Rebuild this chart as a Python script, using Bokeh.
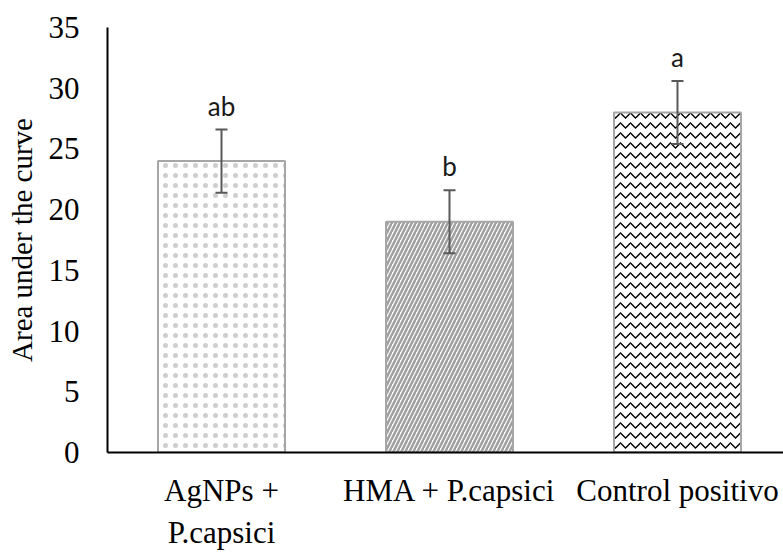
from bokeh.plotting import figure
from bokeh.models import Range1d, FixedTicker, ColumnDataSource, Whisker, TeeHead
from bokeh.core.properties import value
from bokeh.embed import file_html
from bokeh.resources import INLINE

categories = ["AgNPs +\nP.capsici", "HMA + P.capsici", "Control positivo"]
means = [24.0, 19.0, 28.0]
errors = [2.6, 2.6, 2.6]
letters = ["ab", "b", "a"]
y_ticks = [0, 5, 10, 15, 20, 25, 30, 35]

xs = list(range(len(categories)))

p = figure(width=783, height=552, output_backend="svg", toolbar_location=None,
           x_range=Range1d(-0.5, 2.465), y_range=Range1d(0, 35),
           min_border_left=107, min_border_right=0, min_border_top=27, min_border_bottom=91)
p.outline_line_color = None
p.xgrid.visible = False
p.ygrid.visible = False
p.background_fill_color = "white"
p.border_fill_color = "white"

hatches = [
    dict(hatch_pattern="dot", hatch_scale=10, hatch_weight=1, hatch_color="#a6a6a6", hatch_alpha=0.55),
    dict(hatch_pattern="right_diagonal_line", hatch_scale=8, hatch_weight=2.5, hatch_color="#a0a0a0"),
    dict(hatch_pattern="horizontal_wave", hatch_scale=10, hatch_weight=1.3, hatch_color="#000000"),
]
for i in xs:
    p.vbar(x=[xs[i]], top=[means[i]], width=0.557, bottom=0,
           fill_color="white", line_color="#a6a6a6", line_width=2, **hatches[i])

src = ColumnDataSource(dict(x=xs, upper=[m + e for m, e in zip(means, errors)],
                            lower=[m - e for m, e in zip(means, errors)],
                            ly=[m + e + 0.65 for m, e in zip(means, errors)],
                            lab=letters))
w = Whisker(base="x", upper="upper", lower="lower", source=src, level="overlay",
            line_color="#595959", line_width=2,
            upper_head=TeeHead(size=12, line_color="#595959", line_width=2),
            lower_head=TeeHead(size=12, line_color="#595959", line_width=2))
p.add_layout(w)

p.text(x="x", y="ly", text="lab", source=src, text_align="center", text_baseline="bottom",
       text_font=value("Lato"), text_font_size="26px", text_color="#1a1a1a")

for ax in (p.xaxis[0], p.yaxis[0]):
    ax.major_tick_line_color = None
    ax.minor_tick_line_color = None
    ax.axis_line_color = "black"
    ax.axis_line_width = 2
    ax.major_label_text_font = "Liberation Serif"
    ax.major_label_text_color = "black"

p.yaxis.major_label_text_font_size = "31px"
p.xaxis.major_label_text_font_size = "31px"

p.yaxis.ticker = FixedTicker(ticks=y_ticks)
p.yaxis.major_label_standoff = 22
p.yaxis.axis_label = "Area under the curve"
p.yaxis.axis_label_text_font = "Liberation Serif"
p.yaxis.axis_label_text_font_size = "29px"
p.yaxis.axis_label_text_font_style = "normal"
p.yaxis.axis_label_text_color = "black"
p.yaxis.axis_label_standoff = 8

p.xaxis.ticker = FixedTicker(ticks=xs)
p.xaxis.major_label_overrides = {i: c for i, c in zip(xs, categories)}
p.xaxis.major_label_standoff = 14

open("out.html", "w").write(file_html(p, INLINE))
